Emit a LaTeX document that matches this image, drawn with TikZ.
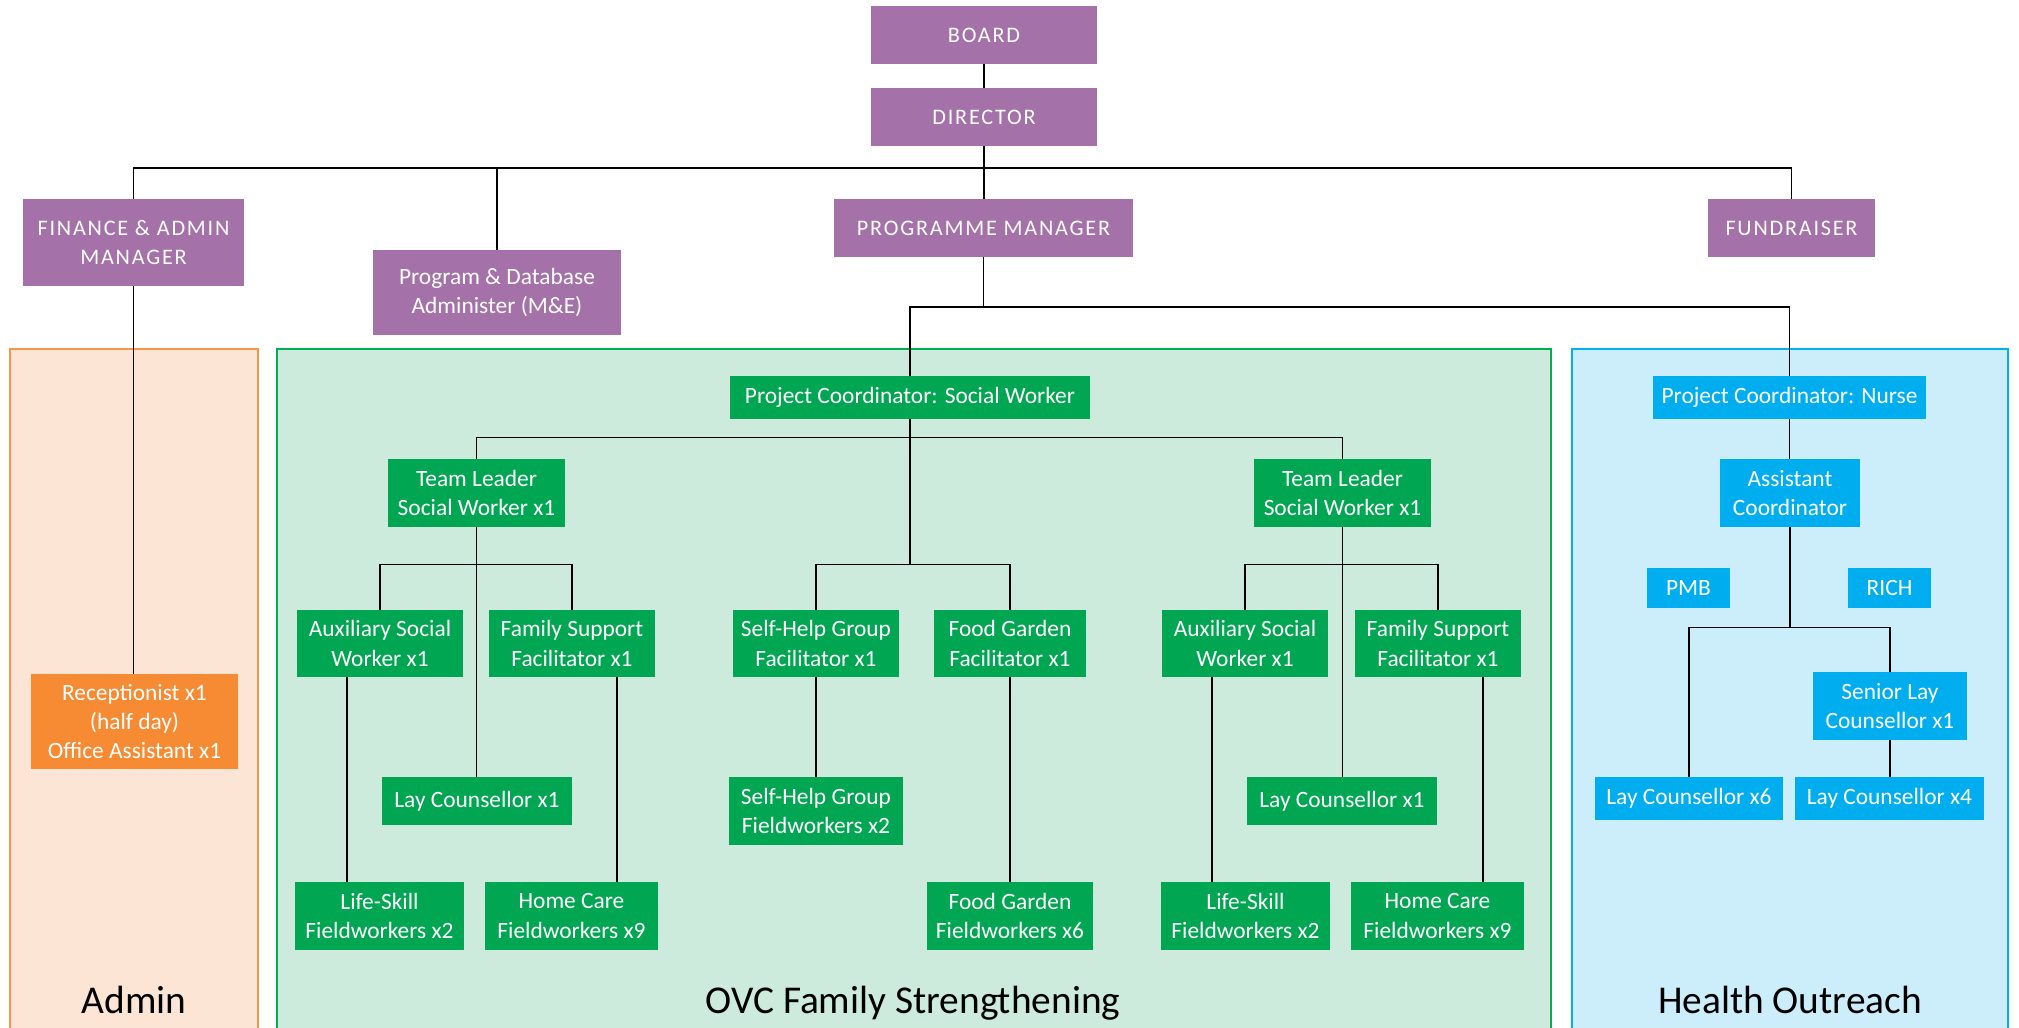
\documentclass[tikz,border=0pt]{standalone}
\usepackage{fontspec}
\setmainfont{Carlito}
\usetikzlibrary{positioning,calc}
\definecolor{purplebox}{HTML}{A471A8}
\definecolor{greenbox}{HTML}{00A651}
\definecolor{orangebox}{HTML}{F68B33}
\definecolor{bluebox}{HTML}{00AEEF}
\definecolor{adminfill}{HTML}{FDE5D5}
\definecolor{adminline}{HTML}{F79646}
\definecolor{ovcfill}{HTML}{CDEBDC}
\definecolor{ovcline}{HTML}{00B050}
\definecolor{healthfill}{HTML}{CCEDFA}
\definecolor{healthline}{HTML}{00B0F0}
\tikzset{
    role/.style={
        rectangle,
        inner sep=0pt,
        text=white,
        align=center,
        font=\fontsize{11.7}{14.6}\selectfont,
    },
    board/.style={
        role,
        fill=purplebox,
    },
    boardcaps/.style={
        board,
        font=\fontsize{11.1}{14.5}\selectfont\addfontfeature{LetterSpace=8},
    },
    ovc/.style={
        role,
        fill=greenbox,
    },
    admin/.style={
        role,
        fill=orangebox,
    },
    health/.style={
        role,
        fill=bluebox,
    },
    wh/.style 2 args={
        minimum width=#1*0.5pt,
        minimum height=#2*0.5pt,
    },
    panel/.style={
        line width=0.8pt,
    },
    title/.style={
        anchor=base,
        font=\fontsize{19.7}{24}\selectfont,
    },
    link/.style={
        draw,
        line width=0.7pt,
    },
}

\begin{document}
\begin{tikzpicture}[x=0.5pt, y=-0.5pt]
                \useasboundingbox (0,0) rectangle (2019,1028);

                \draw [panel, draw=adminline, fill=adminfill] (10,349) rectangle (258,1040);
                \draw [panel, draw=ovcline, fill=ovcfill] (277,349) rectangle (1551,1040);
                \draw [panel, draw=healthline, fill=healthfill] (1572,349) rectangle (2008,1040);
                \node [title] (AdminT) at (134,1013) {Admin};
                \node [title] (OvcT) at (913,1013) {OVC Family Strengthening};
                \node [title] (HealthT) at (1790,1013) {Health Outreach};

                \coordinate (TopBar) at (0,168);
                \coordinate (PMBar) at (0,307);
                \coordinate (PCBar) at (0,437.7);
                \coordinate (TLBar) at (0,564.6);
                \coordinate (NBar) at (0,627.4);

                \node [boardcaps, wh={226}{58}] (Board) at (984,35) {BOARD};
                \node [boardcaps, wh={226}{58}] (Dir) at (984,117) {DIRECTOR};
                \node [boardcaps, wh={221}{87}] (Fin) at (133.5,242.5) {FINANCE \& ADMIN\\MANAGER};
                \node [board, wh={248}{85}] (PDB) at (497,292.5) {Program \& Database\\Administer (M\&E)};
                \node [boardcaps, wh={299}{58}] (PM) at (983.5,228) {PROGRAMME MANAGER};
                \node [boardcaps, wh={167}{58}] (Fund) at (1791.5,228) {FUNDRAISER};

                \node [admin, wh={207}{95}] (Recep) at (134.5,721.5) {Receptionist x1\\(half day)\\Office Assistant x1};

                \node [ovc, wh={360}{43}] (PCsw) at (910,397.5) {Project Coordinator: Social Worker};
                \node [ovc, wh={177}{68}] (TLa) at (476.5,493) {Team Leader\\Social Worker x1};
                \node [ovc, wh={177}{68}] (TLb) at (1342.5,493) {Team Leader\\Social Worker x1};
                \node [ovc, wh={166}{67}] (Auxa) at (380,643.5) {Auxiliary Social\\Worker x1};
                \node [ovc, wh={166}{67}] (Fama) at (572,643.5) {Family Support\\Facilitator x1};
                \node [ovc, wh={166}{67}] (SHGf) at (816,643.5) {Self-Help Group\\Facilitator x1};
                \node [ovc, wh={152}{67}] (FGf) at (1010,643.5) {Food Garden\\Facilitator x1};
                \node [ovc, wh={166}{67}] (Auxb) at (1245,643.5) {Auxiliary Social\\Worker x1};
                \node [ovc, wh={166}{67}] (Famb) at (1438,643.5) {Family Support\\Facilitator x1};
                \node [ovc, wh={190}{48}] (LCa) at (477,801) {Lay Counsellor x1};
                \node [ovc, wh={174}{68}] (SHGw) at (816,811) {Self-Help Group\\Fieldworkers x2};
                \node [ovc, wh={190}{48}] (LCb) at (1342,801) {Lay Counsellor x1};
                \node [ovc, wh={169}{68}] (Lifea) at (379.5,916) {Life-Skill\\Fieldworkers x2};
                \node [ovc, wh={173}{68}] (Homea) at (571.5,916) {Home Care\\Fieldworkers x9};
                \node [ovc, wh={166}{68}] (FGw) at (1010,916) {Food Garden\\Fieldworkers x6};
                \node [ovc, wh={169}{68}] (Lifeb) at (1245.5,916) {Life-Skill\\Fieldworkers x2};
                \node [ovc, wh={173}{68}] (Homeb) at (1437.5,916) {Home Care\\Fieldworkers x9};

                \node [health, wh={273}{43}] (PCn) at (1789.5,397.5) {Project Coordinator: Nurse};
                \node [health, wh={140}{68}] (Asst) at (1790,493) {Assistant\\Coordinator};
                \node [health, wh={83}{40}] (PMB) at (1688.5,588) {PMB};
                \node [health, wh={83}{40}] (RICH) at (1889.5,588) {RICH};
                \node [health, wh={154}{68}] (Senior) at (1890,706) {Senior Lay\\Counsellor x1};
                \node [health, wh={188}{43}] (LCsix) at (1689,798.5) {Lay Counsellor x6};
                \node [health, wh={189}{43}] (LCfour) at (1889.5,798.5) {Lay Counsellor x4};

                \draw [link] (Board.south) -- (Board.south |- Dir.north);
                \draw [link] (Dir.south) -- (Dir.south |- PM.north);
                \draw [link] (Fin.north) -- (Fin.north |- TopBar) -- (Fund.north |- TopBar) -- (Fund.north);
                \draw [link] (PDB.north) -- (PDB.north |- TopBar);
                \draw [link] (Fin.south) -- (Fin.south |- Recep.north);

                \draw [link] (PM.south) -- (PM.south |- PMBar);
                \draw [link] (PCsw.north) -- (PCsw.north |- PMBar) -- (PCn.north |- PMBar) -- (PCn.north);

                \draw [link] (PCsw.south) -- (PCsw.south |- TLBar);
                \draw [link] (TLa.north) -- (TLa.north |- PCBar) -- (TLb.north |- PCBar) -- (TLb.north);
                \draw [link] (SHGf.north) -- (SHGf.north |- TLBar) -- (FGf.north |- TLBar) -- (FGf.north);
                \draw [link] (SHGf.south) -- (SHGf.south |- SHGw.north);
                \draw [link] (FGf.south) -- (FGf.south |- FGw.north);
                \foreach \t in {a,b} {
                    \draw [link] (TL\t.south) -- (TL\t.south |- LC\t.north);
                    \draw [link] (Aux\t.north) -- (Aux\t.north |- TLBar) -- (Fam\t.north |- TLBar) -- (Fam\t.north);
                    \draw [link] (Aux\t.south) ++(-33,0) coordinate (AuxLeg) -- (AuxLeg |- Life\t.north);
                    \draw [link] (Fam\t.south) ++(45,0) coordinate (FamLeg) -- (FamLeg |- Home\t.north);
                }

                \draw [link] (PCn.south) -- (PCn.south |- Asst.north);
                \draw [link] (Asst.south) -- (Asst.south |- NBar);
                \draw [link] (LCsix.north) -- (LCsix.north |- NBar) -- (Senior.north |- NBar) -- (Senior.north);
                \draw [link] (Senior.south) -- (Senior.south |- LCfour.north);
            \end{tikzpicture}
\end{document}
